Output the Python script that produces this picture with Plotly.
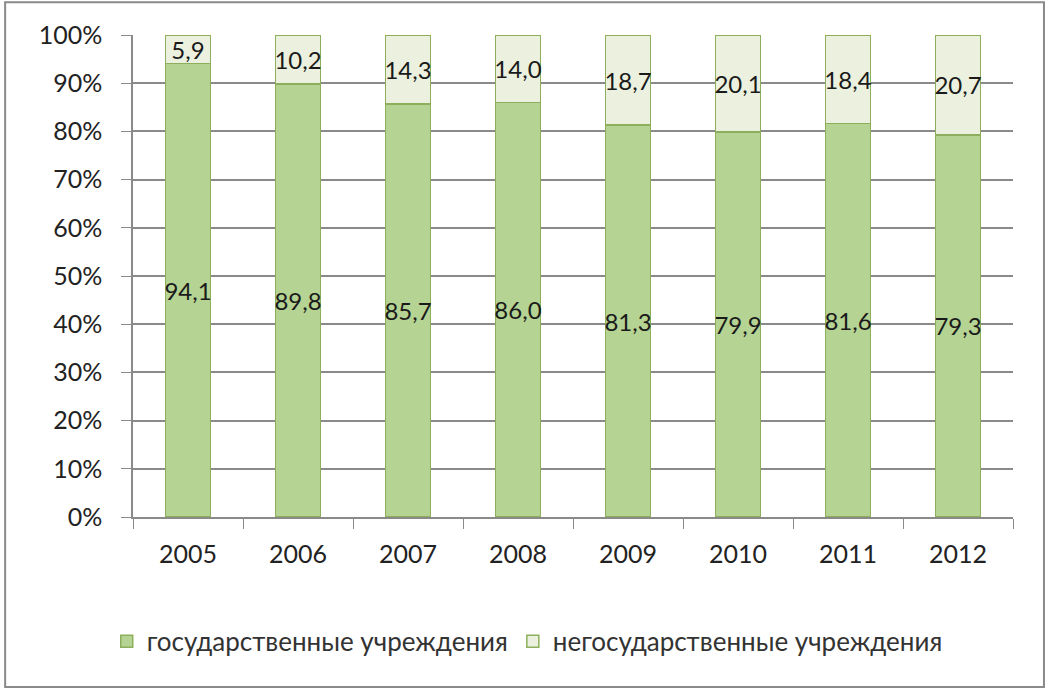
import plotly.graph_objects as go

years = ["2005", "2006", "2007", "2008", "2009", "2010", "2011", "2012"]
state = [94.1, 89.8, 85.7, 86.0, 81.3, 79.9, 81.6, 79.3]
nonstate = [5.9, 10.2, 14.3, 14.0, 18.7, 20.1, 18.4, 20.7]
names = ["государственные учреждения", "негосударственные учреждения"]

font_family = "Lato, 'Open Sans', sans-serif"
label_font = dict(size=24, color="#1a1a1a", family=font_family)

fig = go.Figure()
fig.add_trace(go.Bar(
    x=years, y=state, name=names[0],
    marker=dict(color="#B5D392", line=dict(color="#8DAF5C", width=1.5)),
    texttemplate="%{y:.1f}", textposition="inside", insidetextanchor="middle",
    textangle=0, constraintext="none", textfont=label_font,
))
fig.add_trace(go.Bar(
    x=years, y=nonstate, name=names[1],
    marker=dict(color="#EBF1DE", line=dict(color="#8DAF5C", width=1.5)),
    texttemplate="%{y:.1f}", textposition="inside", insidetextanchor="middle",
    textangle=0, constraintext="none", textfont=label_font,
))

fig.update_layout(
    barmode="stack",
    bargap=0.59,
    width=1049, height=689,
    margin=dict(l=133, r=36, t=35, b=172),
    paper_bgcolor="white", plot_bgcolor="white",
    separators=", ",
    font=dict(family=font_family, size=25, color="#222222"),
    uniformtext=dict(minsize=24, mode="show"),
    legend=dict(orientation="h", x=0.448, xanchor="center", y=-0.258, yanchor="middle",
                font=dict(size=26, color="#333333"), traceorder="normal"),
    shapes=[dict(type="rect", xref="paper", yref="paper",
                 x0=-0.1453, x1=1.0352, y0=-0.3527, y1=1.068,
                 line=dict(color="#8a8a8a", width=2))],
)
fig.update_xaxes(showline=True, linecolor="#8a8a8a", linewidth=1.5,
                 ticks="outside", tickson="boundaries", ticklen=10, tickcolor="#8a8a8a",
                 tickfont=dict(size=25), ticklabelstandoff=14)
fig.update_yaxes(range=[0, 100], dtick=10, ticksuffix="%",
                 showgrid=True, gridcolor="#8a8a8a", gridwidth=1.5,
                 showline=True, linecolor="#8a8a8a", linewidth=1.5,
                 ticks="outside", ticklen=10, tickcolor="#8a8a8a",
                 tickfont=dict(size=25), ticklabelstandoff=14, zeroline=False)

fig.write_html("out.html", config={"displayModeBar": False},
               post_script="document.body.style.margin='0';")
